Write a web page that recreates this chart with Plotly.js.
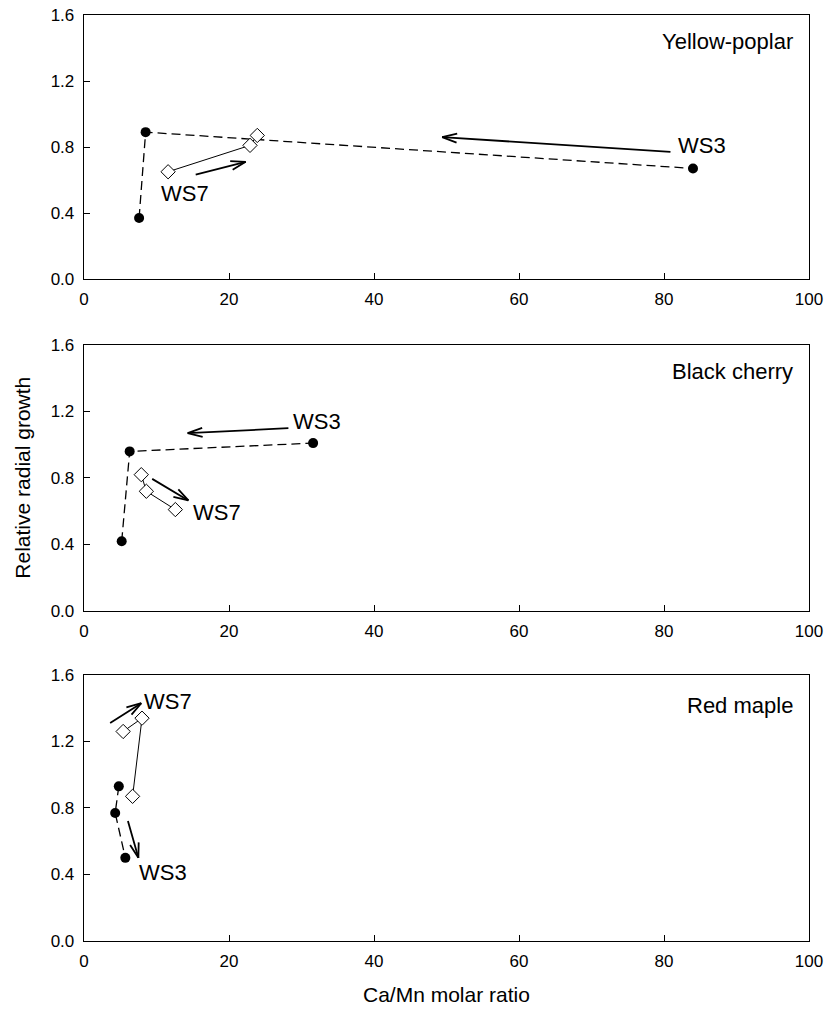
<!DOCTYPE html>
<html>
<head>
<meta charset="utf-8">
<script src="https://cdn.plot.ly/plotly-3.0.1.min.js"></script>
<style>html,body{margin:0;padding:0;background:#fff;}#chart{width:827px;height:1012px;}</style>
</head>
<body>
<div id="chart"></div>
<script>
// ---------- data ----------
const panelNames = ["Yellow-poplar", "Black cherry", "Red maple"];

// WS3 (filled circles, dashed line)
const ws3X_yp = [7.6, 8.5, 84.0];
const ws3Y_yp = [0.37, 0.89, 0.67];
const ws3X_bc = [5.2, 6.3, 31.6];
const ws3Y_bc = [0.42, 0.96, 1.01];
const ws3X_rm = [4.8, 4.3, 5.7];
const ws3Y_rm = [0.93, 0.77, 0.50];

// WS7 (open diamonds, solid line)
const ws7X_yp = [11.6, 22.9, 23.9];
const ws7Y_yp = [0.65, 0.81, 0.87];
const ws7X_bc = [7.9, 8.6, 12.6];
const ws7Y_bc = [0.82, 0.72, 0.61];
const ws7X_rm = [5.4, 8.0, 6.7];
const ws7Y_rm = [1.26, 1.34, 0.87];

// direction arrows: [tailX, tailY, headX, headY] per panel
const arrowsYP = [[81.1, 0.77, 49.4, 0.86], [15.2, 0.63, 22.3, 0.71]];
const arrowsBC = [[28.4, 1.10, 14.3, 1.07], [9.2, 0.80, 14.4, 0.665]];
const arrowsRM = [[3.4, 1.305, 7.9, 1.43], [6.0, 0.73, 7.5, 0.50]];

// watershed labels: [text, x, y] per panel
const labelsYP = [["WS3", 85.2, 0.81], ["WS7", 13.9, 0.52]];
const labelsBC = [["WS3", 32.2, 1.14], ["WS7", 18.3, 0.595]];
const labelsRM = [["WS7", 11.6, 1.44], ["WS3", 10.9, 0.41]];

const xTicks = [0, 20, 40, 60, 80, 100];
const yTicks = [0.0, 0.4, 0.8, 1.2, 1.6];
const xTitle = "Ca/Mn molar ratio";
const yTitle = "Relative radial growth";

// ---------- layout constants ----------
const W = 827, H = 1012;
const M = {l: 84, r: 18, t: 15, b: 71};
const domains = [[0.7149, 1.0], [0.3564, 0.6436], [0.0, 0.2873]];
const xRange = [0, 100], yRange = [0, 1.6];
const FONT = "Liberation Sans, Arial, sans-serif";

const panels = [
  {ws3: [ws3X_yp, ws3Y_yp], ws7: [ws7X_yp, ws7Y_yp], arrows: arrowsYP, labels: labelsYP, nameY: 0.90},
  {ws3: [ws3X_bc, ws3Y_bc], ws7: [ws7X_bc, ws7Y_bc], arrows: arrowsBC, labels: labelsBC, nameY: 0.90},
  {ws3: [ws3X_rm, ws3Y_rm], ws7: [ws7X_rm, ws7Y_rm], arrows: arrowsRM, labels: labelsRM, nameY: 0.885}
];

const traces = [];
const annotations = [];
const layout = {
  width: W, height: H,
  margin: M,
  paper_bgcolor: "#fff", plot_bgcolor: "#fff",
  showlegend: false,
  font: {family: FONT, color: "#000", size: 17},
  annotations: annotations
};

const plotW = W - M.l - M.r;
const plotH = H - M.t - M.b;

panels.forEach((p, i) => {
  const n = i + 1;
  const xa = n === 1 ? "x" : "x" + n;
  const ya = n === 1 ? "y" : "y" + n;
  const xKey = n === 1 ? "xaxis" : "xaxis" + n;
  const yKey = n === 1 ? "yaxis" : "yaxis" + n;

  layout[xKey] = {
    range: xRange, domain: [0, 1], anchor: ya,
    tickvals: xTicks, ticktext: xTicks.map(String),
    ticks: "inside", ticklen: 6, tickwidth: 1, tickcolor: "#000",
    ticklabelstandoff: 4,
    showline: true, mirror: true, linecolor: "#000", linewidth: 1.3,
    showgrid: false, zeroline: false,
    tickfont: {family: FONT, size: 17, color: "#000"}
  };
  layout[yKey] = {
    range: yRange, domain: domains[i], anchor: xa,
    tickvals: yTicks, ticktext: yTicks.map(v => v.toFixed(1)),
    ticks: "inside", ticklen: 6, tickwidth: 1, tickcolor: "#000",
    ticklabelstandoff: 5,
    showline: true, mirror: true, linecolor: "#000", linewidth: 1.3,
    showgrid: false, zeroline: false,
    tickfont: {family: FONT, size: 17, color: "#000"}
  };

  traces.push({
    type: "scatter", mode: "lines+markers", xaxis: xa, yaxis: ya,
    x: p.ws3[0], y: p.ws3[1], name: "WS3",
    line: {color: "#000", width: 1.3, dash: "9px,5px"},
    marker: {symbol: "circle", size: 10, color: "#000"},
    cliponaxis: false
  });
  traces.push({
    type: "scatter", mode: "lines+markers", xaxis: xa, yaxis: ya,
    x: p.ws7[0], y: p.ws7[1], name: "WS7",
    line: {color: "#000", width: 1},
    marker: {symbol: "diamond", size: 11, color: "#fff", line: {color: "#000", width: 1}},
    cliponaxis: false
  });

  // pixel scale for this panel (used to orient open arrowheads)
  const pxPerX = plotW / (xRange[1] - xRange[0]);
  const pxPerY = plotH * (domains[i][1] - domains[i][0]) / (yRange[1] - yRange[0]);

  p.arrows.forEach(a => {
    const [tx, ty, hx, hy] = a;
    annotations.push({
      xref: xa, yref: ya, axref: xa, ayref: ya,
      x: hx, y: hy, ax: tx, ay: ty, text: "",
      showarrow: true, arrowhead: 0, arrowwidth: 1.8, arrowcolor: "#000",
      standoff: 0, startstandoff: 0
    });
    // open V head: two short strokes from the tip, in pixel offsets
    const dx = (tx - hx) * pxPerX;
    const dy = -(ty - hy) * pxPerY; // screen y downward
    const len = Math.hypot(dx, dy);
    const ux = dx / len, uy = dy / len;
    const armLen = 17, ang = 17 * Math.PI / 180;
    [ang, -ang].forEach(t => {
      const rx = ux * Math.cos(t) - uy * Math.sin(t);
      const ry = ux * Math.sin(t) + uy * Math.cos(t);
      annotations.push({
        xref: xa, yref: ya, x: hx, y: hy,
        ax: rx * armLen, ay: ry * armLen, text: "",
        showarrow: true, arrowhead: 0, arrowwidth: 1.8, arrowcolor: "#000",
        standoff: 0, startstandoff: 0
      });
    });
  });

  p.labels.forEach(l => {
    annotations.push({
      xref: xa, yref: ya, x: l[1], y: l[2], text: l[0],
      showarrow: false, xanchor: "center", yanchor: "middle",
      font: {family: FONT, size: 22, color: "#000"}
    });
  });

  annotations.push({
    xref: xa + " domain", yref: ya + " domain", x: 0.981, y: p.nameY,
    text: panelNames[i], showarrow: false, xanchor: "right", yanchor: "middle",
    font: {family: FONT, size: 22, color: "#000"}
  });
});

annotations.push({
  xref: "paper", yref: "paper", x: 0.5, y: -0.058,
  text: xTitle, showarrow: false, xanchor: "center", yanchor: "middle",
  font: {family: FONT, size: 21, color: "#000"}
});
annotations.push({
  xref: "paper", yref: "paper", x: -0.086, y: 0.5,
  text: yTitle, showarrow: false, textangle: -90, xanchor: "center", yanchor: "middle",
  font: {family: FONT, size: 21, color: "#000"}
});

Plotly.newPlot("chart", traces, layout, {staticPlot: true, displayModeBar: false});
</script>
</body>
</html>
